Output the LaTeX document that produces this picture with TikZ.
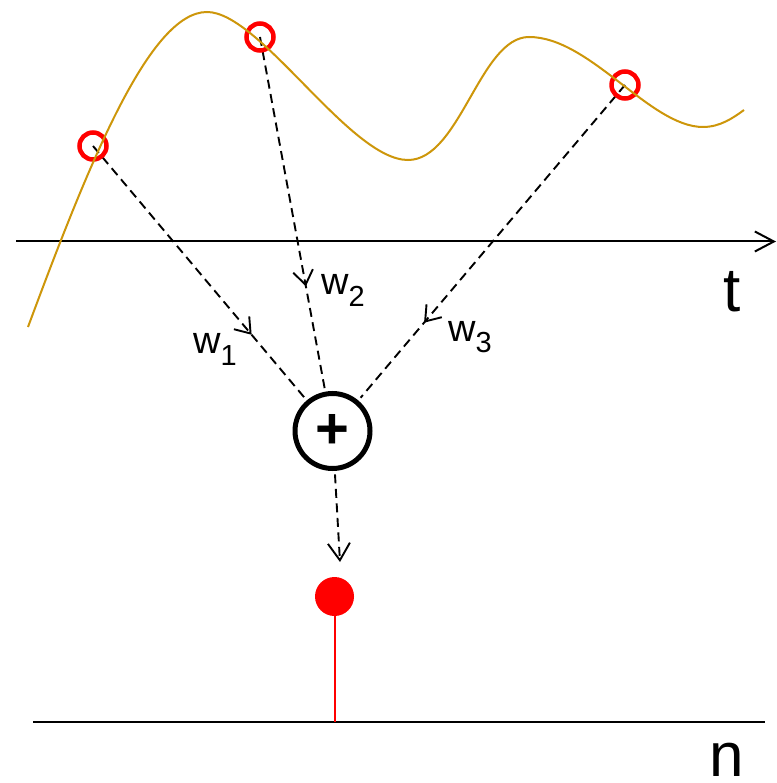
\documentclass[tikz,border=0pt]{standalone}
\usepackage{fontspec}
\setmainfont{Liberation Sans}
\usetikzlibrary{arrows.meta,decorations.markings}
\definecolor{signalgold}{RGB}{205,150,10}

\begin{document}
\begin{tikzpicture}[x=1pt, y=-1pt,
  >={Straight Barb[length=14pt,width=20pt]},
  sample/.style={circle, draw=red, line width=4.5pt, minimum size=27pt, inner sep=0pt},
  summer/.style={circle, draw, line width=5pt, minimum size=75pt, inner sep=0pt, outer sep=6pt,
    font=\fontsize{58}{58}\selectfont\bfseries},
  outdot/.style={circle, fill=red, minimum size=39pt, inner sep=0pt},
  axis/.style={line width=2pt},
  dline/.style={line width=1.9pt, dash pattern=on 9pt off 5.5pt},
  wline/.style={dline, postaction={decorate},
    decoration={markings, mark=at position #1 with {\arrow{>}}}},
  wlabel/.style={inner sep=0pt, anchor=base west, font=\fontsize{38}{38}\selectfont},
  axlabel/.style={inner sep=0pt, anchor=base west, font=\fontsize{62}{62}\selectfont}
]
\useasboundingbox (0,0) rectangle (776,783);

% axes
\coordinate (t0) at (16,241.5);
\coordinate (t1) at (776,241.5);
\draw[axis, -{Straight Barb[length=19pt,width=20pt]}] (t0) -- (t1);
\node[axlabel] (tlabel) at (723,311) {t};
\coordinate (n0) at (33,722);
\coordinate (n1) at (765,722);
\draw[axis] (n0) -- (n1);
\node[axlabel] (nlabel) at (709,776) {n};

% samples and sum
\coordinate (c1) at (93,146);
\coordinate (c2) at (260,37);
\coordinate (c3) at (625,85);
\node[summer] (sum) at (332.5,431) {+};
\node[outdot] (out) at (334.5,596.5) {};
\coordinate (tip) at (340,562);

\draw[wline=0.75] (c1) -- (sum);
\draw[wline=0.71] (c2) -- (sum);
\draw[wline=0.76] (c3) -- (sum);
\draw[dline, -{Straight Barb[length=17pt,width=22pt]}] (sum) -- (tip);
\draw[red, line width=2pt] (out) -- (out |- n0);

\node[sample] (s1) at (c1) {};
\node[sample] (s2) at (c2) {};
\node[sample] (s3) at (c3) {};

% signal
\draw[signalgold, line width=2pt] (28,327)
  .. controls (90,160) and (150,12) .. (207,12)
  .. controls (260,12) and (350,160) .. (408,160)
  .. controls (460,160) and (480,37) .. (529,37)
  .. controls (590,37) and (650,127) .. (703,127)
  .. controls (720,127) and (733,118) .. (744,110);

% weights
\node[wlabel] (w1) at (193,353) {w\raisebox{-12pt}{\fontsize{29}{29}\selectfont 1}};
\node[wlabel] (w2) at (321,294) {w\raisebox{-12pt}{\fontsize{29}{29}\selectfont 2}};
\node[wlabel] (w3) at (448,341) {w\raisebox{-11pt}{\fontsize{29}{29}\selectfont 3}};
\end{tikzpicture}
\end{document}
